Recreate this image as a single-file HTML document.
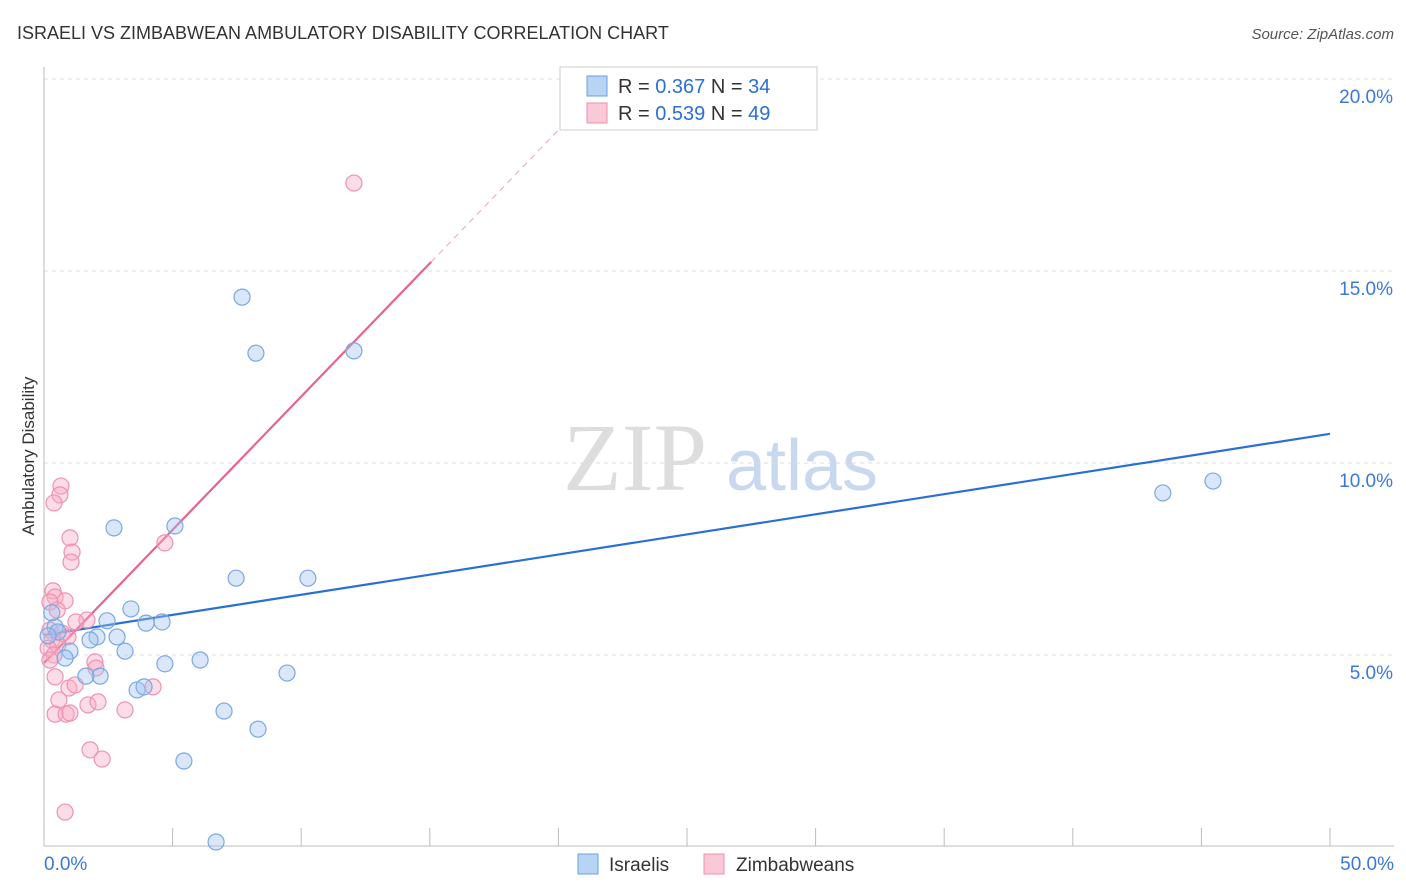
<!DOCTYPE html>
<html><head><meta charset="utf-8"><style>
body{margin:0;background:#fff;font-family:"Liberation Sans",sans-serif;}
svg{display:block}
</style></head><body>
<svg id="chart" width="1406" height="892" xmlns="http://www.w3.org/2000/svg">
<text x="17" y="39" font-size="18" fill="#333">ISRAELI VS ZIMBABWEAN AMBULATORY DISABILITY CORRELATION CHART</text>
<text x="1394" y="39" font-size="15" fill="#555" font-style="italic" text-anchor="end">Source: ZipAtlas.com</text>
<text transform="translate(34,456) rotate(-90)" font-size="17" fill="#333" text-anchor="middle">Ambulatory Disability</text>
<g>
<text x="635" y="490" font-size="96" fill="#ddd" font-family="Liberation Serif,serif" text-anchor="middle">ZIP</text>
<text x="802" y="490" font-size="72" fill="#c8d8ee" text-anchor="middle">atlas</text></g>
<g id="grid"></g><g id="axes"></g><g id="lines"></g><g id="pts"></g>
<g>
<rect x="560" y="67" width="257" height="63" fill="#fff" stroke="#ccc"/>
<rect x="587" y="76" width="20" height="20" fill="#b8d4f5" stroke="#6a9fe0"/>
<text x="618" y="93" font-size="20" fill="#333">R = <tspan fill="#2a6fd6">0.367</tspan>   N = <tspan fill="#2a6fd6">34</tspan></text>
<rect x="587" y="103" width="20" height="20" fill="#fbc8d8" stroke="#ec8fae"/>
<text x="618" y="120" font-size="20" fill="#333">R = <tspan fill="#2a6fd6">0.539</tspan>   N = <tspan fill="#2a6fd6">49</tspan></text>
</g>
<g>
<rect x="578" y="854" width="20" height="20" fill="#b8d4f5" stroke="#6a9fe0"/>
<text x="609" y="871" font-size="19" fill="#333">Israelis</text>
<rect x="704" y="854" width="20" height="20" fill="#fbc8d8" stroke="#ec8fae"/>
<text x="736" y="871" font-size="19" fill="#333">Zimbabweans</text>
</g>
</svg>
<script>
const yTicks=[5,10,15,20];
const yTickLabels=["5.0%","10.0%","15.0%","20.0%"];
const blueX=[7.7,8.24,12.05,2.72,5.09,7.47,10.26,3.38,2.45,3.97,4.59,0.43,2.06,2.84,1.79,1.01,0.82,3.15,4.7,6.07,2.18,1.63,9.45,3.62,3.89,7.0,8.32,5.44,6.69,43.5,45.45,0.54,0.16,0.3];
const blueY=[14.32,12.86,12.92,8.31,8.36,7.0,7.0,6.2,5.89,5.83,5.86,5.73,5.47,5.47,5.39,5.1,4.92,5.1,4.77,4.87,4.45,4.45,4.53,4.09,4.17,3.54,3.07,2.24,0.13,9.22,9.53,5.6,5.5,6.1];
const pinkX=[12.05,0.66,0.62,0.39,4.7,1.01,1.09,1.05,0.35,0.43,0.23,0.82,0.51,1.67,1.24,0.23,0.7,0.93,0.31,0.54,0.16,0.39,0.23,1.98,2.02,0.43,0.97,1.21,4.24,0.58,1.71,2.1,3.15,0.43,0.86,1.01,1.79,2.26,0.82];
const pinkY=[17.29,9.4,9.17,8.96,7.92,8.05,7.68,7.42,6.67,6.51,6.38,6.41,6.17,5.91,5.86,5.65,5.57,5.47,5.39,5.26,5.18,5.0,4.87,4.82,4.66,4.43,4.14,4.22,4.17,3.83,3.7,3.78,3.57,3.46,3.46,3.49,2.53,2.29,0.91];
const blueTrend=[5.52,10.76];
const pinkTrend=[4.79,0.694];
const NS="http://www.w3.org/2000/svg";
const X=v=>44+v/50*1286, Y=v=>847-v*38.4;
function mk(t,a,p){const e=document.createElementNS(NS,t);for(const k in a)e.setAttribute(k,a[k]);document.getElementById(p).appendChild(e);return e;}
yTicks.forEach((t,i)=>{
 const g=mk('line',{x1:44,x2:1394,y1:Y(t),y2:Y(t),stroke:'#ddd','stroke-dasharray':'4,4'},'grid');
 
 
 const l=mk('text',{x:1393,y:Y(t)+24,'font-size':19,fill:'#3a78d8','text-anchor':'end'},'axes');
 l.textContent=yTickLabels[i];
 
 
});
mk('line',{x1:44,x2:44,y1:67,y2:846,stroke:'#bbb'},'axes');
mk('line',{x1:44,x2:1394,y1:846,y2:846,stroke:'#bbb'},'axes');
for(let i=0;i<=10;i++){const t=mk('line',{x1:X(i*5),x2:X(i*5),y1:828,y2:846,stroke:'#bbb'},'axes');
 
 }
let a=mk('text',{x:44,y:870,'font-size':19,fill:'#3a78d8'},'axes');a.textContent='0.0%';


a=mk('text',{x:1394,y:870,'font-size':19,fill:'#3a78d8','text-anchor':'end'},'axes');a.textContent='50.0%';


let ln=mk('line',{x1:X(0),y1:Y(blueTrend[0]),x2:X(50),y2:Y(blueTrend[1]),stroke:'#2a6fd6','stroke-width':2.2},'lines');


const pe=15.05,pd=20.2;
ln=mk('line',{x1:X(0),y1:Y(pinkTrend[0]),x2:X(pe),y2:Y(pinkTrend[0]+pinkTrend[1]*pe),stroke:'#e8628d','stroke-width':2.2},'lines');


ln=mk('line',{x1:X(pe),y1:Y(pinkTrend[0]+pinkTrend[1]*pe),x2:X(pd),y2:Y(pinkTrend[0]+pinkTrend[1]*pd),stroke:'#f0a0ba','stroke-width':1,'stroke-dasharray':'6,5'},'lines');


pinkX.forEach((x,i)=>{const c=mk('circle',{cx:X(x),cy:Y(pinkY[i]),r:8,fill:'rgba(247,170,196,0.4)',stroke:'#ee92b0','stroke-width':1.2},'pts');
 
 });
blueX.forEach((x,i)=>{const c=mk('circle',{cx:X(x),cy:Y(blueY[i]),r:8,fill:'rgba(160,196,240,0.4)',stroke:'#7aa8e4','stroke-width':1.2},'pts');
 
 });
</script>
</body></html>
